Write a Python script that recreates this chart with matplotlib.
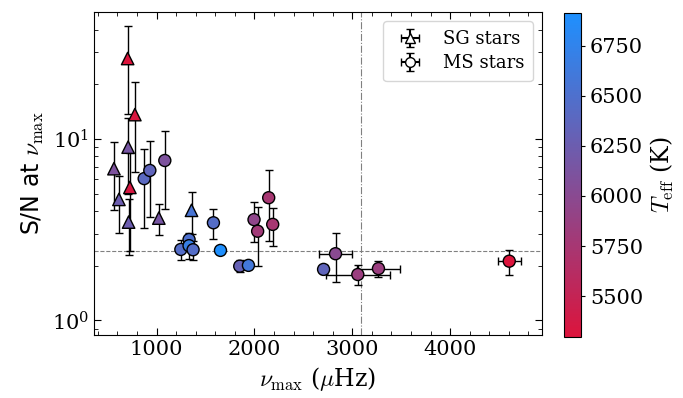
import numpy as np
import matplotlib
matplotlib.use("Agg")
import matplotlib.pyplot as plt
from matplotlib.colors import LinearSegmentedColormap

plt.rcParams['font.family'] = 'DejaVu Serif'
plt.rcParams['mathtext.fontset'] = 'cm'

# SG stars (triangles)
sg_numax = [704, 778, 709, 564, 727, 615, 714, 1023, 1357]
sg_snr = [27.7, 13.6, 9.0, 6.85, 5.4, 4.64, 3.48, 3.66, 4.04]
sg_snr_err = [14.0, 7.0, 4.0, 2.8, 3.0, 1.6, 1.2, 0.7, 1.05]
sg_teff = [5300, 5320, 6150, 6100, 5350, 6250, 6250, 6150, 6550]

# MS stars (circles)
ms_numax = [873, 931, 1084, 1248, 1332, 1332, 1373, 1581, 1653, 1850, 1939,
            1996, 2033, 2146, 2187, 2707, 2829, 3057, 3268, 4605]
ms_snr = [6.04, 6.7, 7.6, 2.46, 2.79, 2.58, 2.45, 3.45, 2.43, 1.99, 2.01,
          3.59, 3.1, 4.74, 3.38, 1.91, 2.33, 1.79, 1.93, 2.12]
ms_snr_err = [2.8, 3.0, 3.5, 0.3, 0.25, 0.4, 0.3, 0.65, 0.05, 0.15, 0.1,
              0.9, 1.1, 2.0, 0.8, 0.1, 0.7, 0.23, 0.2, 0.33]
ms_numax_err = [0, 0, 0, 0, 0, 0, 0, 0, 0, 0, 0,
                0, 0, 0, 0, 0, 170, 330, 220, 120]
ms_teff = [6400, 6350, 6100, 6450, 6500, 6700, 6450, 6450, 6900, 6300, 6600,
           5950, 5800, 5750, 5750, 6350, 6000, 5850, 5850, 5300]

numax_sun = 3090
snr_threshold = 2.4

cmap = LinearSegmentedColormap.from_list('rb', ['crimson', 'dodgerblue'])
vmin, vmax = 5294, 6916

fig = plt.figure(figsize=(6.83, 3.98), dpi=100)
ax = fig.add_axes([0.1376, 0.158, 0.656, 0.812])
cax = fig.add_axes([0.826, 0.1525, 0.0245, 0.816])

ax.axvline(numax_sun, color='gray', ls='-.', lw=0.8, zorder=0)
ax.axhline(snr_threshold, color='gray', ls='--', lw=0.8, zorder=0)

ax.errorbar(sg_numax, sg_snr, yerr=sg_snr_err, fmt='none', ecolor='k',
            elinewidth=1, capsize=3, zorder=1)
ax.errorbar(ms_numax, ms_snr, yerr=ms_snr_err, fmt='none', ecolor='k',
            elinewidth=1, capsize=3, zorder=1)
ms_x = np.array(ms_numax_err) > 0
ax.errorbar(np.array(ms_numax)[ms_x], np.array(ms_snr)[ms_x],
            xerr=np.array(ms_numax_err)[ms_x], fmt='none', ecolor='k',
            elinewidth=1, capsize=3, zorder=1)

sc = ax.scatter(sg_numax, sg_snr, c=sg_teff, cmap=cmap, vmin=vmin, vmax=vmax,
                marker='^', s=80, edgecolors='k', linewidths=1, zorder=3)
ax.scatter(ms_numax, ms_snr, c=ms_teff, cmap=cmap, vmin=vmin, vmax=vmax,
           marker='o', s=75, edgecolors='k', linewidths=1, zorder=3)

# legend handles
ax.errorbar([np.nan], [np.nan], xerr=[1], yerr=[1], fmt='^', mfc='white',
            mec='k', ecolor='k', capsize=3, ms=7, label='SG stars')
ax.errorbar([np.nan], [np.nan], xerr=[1], yerr=[1], fmt='o', mfc='white',
            mec='k', ecolor='k', capsize=3, ms=7, label='MS stars')
ax.legend(loc='upper right', fontsize=13, borderpad=0.5, labelspacing=0.35)

ax.set_yscale('log')
ax.set_xlim(360, 4940)
ax.set_ylim(0.83, 50)
ax.set_xticks([1000, 2000, 3000, 4000])
ax.xaxis.set_minor_locator(matplotlib.ticker.MultipleLocator(200))
ax.tick_params(which='both', direction='in', top=True, right=True, labelsize=15)
ax.tick_params(which='major', length=5)
ax.tick_params(which='minor', length=3)
ax.set_xlabel(r'$\nu_{\rm max}$ ($\mu$Hz)', fontsize=17)
ax.set_ylabel(r'S/N at $\nu_{\rm max}$', fontsize=17, family='DejaVu Sans')

cb = fig.colorbar(sc, cax=cax)
cb.set_ticks([5500, 5750, 6000, 6250, 6500, 6750])
cb.ax.tick_params(labelsize=15, direction='out', length=3)
cb.set_label(r'$T_{\rm eff}$ (K)', fontsize=17)

fig.savefig('out.png', dpi=100)
